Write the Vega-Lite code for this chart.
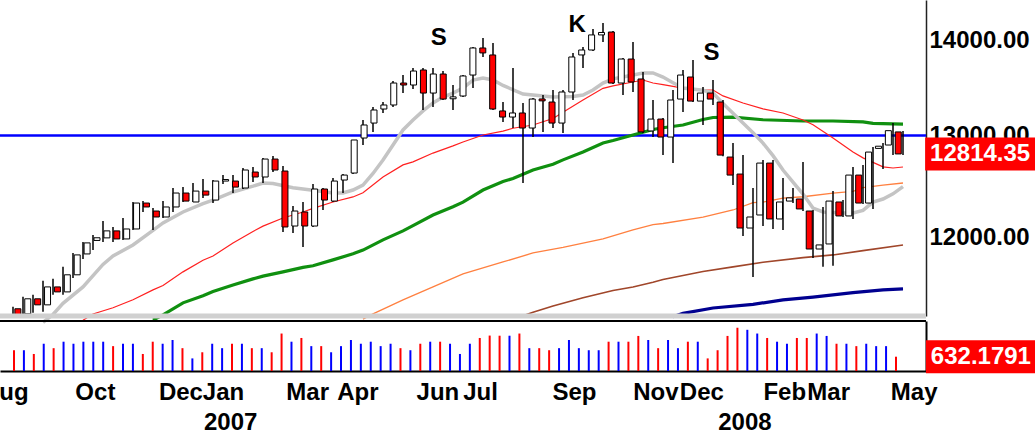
{
  "$schema": "https://vega.github.io/schema/vega-lite/v6.json",
  "width": 926,
  "height": 371,
  "autosize": {"type": "none"},
  "padding": {"left": 0, "top": 0, "right": 109, "bottom": 63},
  "background": "#ffffff",
  "config": {
    "view": {"stroke": null},
    "font": "Liberation Sans",
    "axis": {"labelFont": "Liberation Sans", "labelFontSize": 24, "labelFontWeight": "bold", "labelColor": "#000000", "grid": false, "ticks": false, "tickSize": 0, "labelFlush": false, "labelOverlap": false, "domainColor": "#000000"}
  },
  "datasets": {
    "candles": [
      {"d":"2006-08-21","o":11351,"h":11369,"l":11280,"c":11300,"v":918},
      {"d":"2006-08-28","o":11306,"h":11458,"l":11288,"c":11440,"v":918},
      {"d":"2006-09-04","o":11440,"h":11476,"l":11315,"c":11386,"v":753},
      {"d":"2006-09-11","o":11386,"h":11602,"l":11324,"c":11547,"v":1205},
      {"d":"2006-09-18","o":11547,"h":11620,"l":11476,"c":11502,"v":1009},
      {"d":"2006-09-25","o":11502,"h":11730,"l":11476,"c":11657,"v":1295},
      {"d":"2006-10-02","o":11657,"h":11858,"l":11629,"c":11840,"v":1205},
      {"d":"2006-10-09","o":11849,"h":11961,"l":11803,"c":11952,"v":1295},
      {"d":"2006-10-16","o":11975,"h":12027,"l":11886,"c":12000,"v":1295},
      {"d":"2006-10-23","o":11999,"h":12159,"l":11961,"c":12065,"v":1295},
      {"d":"2006-10-30","o":12065,"h":12102,"l":11961,"c":11989,"v":1099},
      {"d":"2006-11-06","o":11989,"h":12187,"l":11980,"c":12083,"v":1205},
      {"d":"2006-11-13","o":12083,"h":12341,"l":12074,"c":12331,"v":1205},
      {"d":"2006-11-20","o":12331,"h":12350,"l":12245,"c":12293,"v":753},
      {"d":"2006-11-27","o":12254,"h":12283,"l":12074,"c":12197,"v":1295},
      {"d":"2006-12-04","o":12197,"h":12350,"l":12187,"c":12293,"v":1205},
      {"d":"2006-12-11","o":12293,"h":12477,"l":12245,"c":12428,"v":1370},
      {"d":"2006-12-18","o":12428,"h":12486,"l":12341,"c":12350,"v":1009},
      {"d":"2006-12-25","o":12341,"h":12526,"l":12341,"c":12447,"v":557},
      {"d":"2007-01-01","o":12447,"h":12565,"l":12379,"c":12408,"v":828},
      {"d":"2007-01-08","o":12360,"h":12555,"l":12331,"c":12545,"v":1205},
      {"d":"2007-01-15","o":12545,"h":12604,"l":12516,"c":12560,"v":1009},
      {"d":"2007-01-22","o":12545,"h":12604,"l":12428,"c":12486,"v":1205},
      {"d":"2007-01-29","o":12477,"h":12674,"l":12467,"c":12654,"v":1205},
      {"d":"2007-02-05","o":12634,"h":12684,"l":12535,"c":12585,"v":1009},
      {"d":"2007-02-12","o":12585,"h":12773,"l":12526,"c":12763,"v":1009},
      {"d":"2007-02-19","o":12763,"h":12793,"l":12634,"c":12654,"v":828},
      {"d":"2007-02-26","o":12644,"h":12694,"l":12055,"c":12102,"v":1656},
      {"d":"2007-03-05","o":12111,"h":12302,"l":12046,"c":12254,"v":1295},
      {"d":"2007-03-12","o":12245,"h":12341,"l":11914,"c":12111,"v":1460},
      {"d":"2007-03-19","o":12111,"h":12516,"l":12102,"c":12467,"v":1099},
      {"d":"2007-03-26","o":12467,"h":12477,"l":12264,"c":12360,"v":1099},
      {"d":"2007-04-02","o":12350,"h":12575,"l":12341,"c":12545,"v":828},
      {"d":"2007-04-09","o":12555,"h":12614,"l":12428,"c":12604,"v":1099},
      {"d":"2007-04-16","o":12624,"h":12955,"l":12614,"c":12955,"v":1370},
      {"d":"2007-04-23","o":12975,"h":13159,"l":12904,"c":13108,"v":1205},
      {"d":"2007-04-30","o":13128,"h":13294,"l":13037,"c":13263,"v":1295},
      {"d":"2007-05-07","o":13273,"h":13346,"l":13232,"c":13315,"v":1099},
      {"d":"2007-05-14","o":13315,"h":13567,"l":13294,"c":13546,"v":1205},
      {"d":"2007-05-21","o":13546,"h":13631,"l":13440,"c":13525,"v":1009},
      {"d":"2007-05-28","o":13525,"h":13706,"l":13483,"c":13674,"v":918},
      {"d":"2007-06-04","o":13685,"h":13706,"l":13263,"c":13440,"v":1205},
      {"d":"2007-06-11","o":13440,"h":13706,"l":13294,"c":13642,"v":1295},
      {"d":"2007-06-18","o":13642,"h":13674,"l":13367,"c":13377,"v":1295},
      {"d":"2007-06-25","o":13380,"h":13525,"l":13263,"c":13400,"v":1205},
      {"d":"2007-07-02","o":13409,"h":13631,"l":13398,"c":13621,"v":753},
      {"d":"2007-07-09","o":13631,"h":13934,"l":13493,"c":13923,"v":1205},
      {"d":"2007-07-16","o":13923,"h":14032,"l":13825,"c":13869,"v":1460},
      {"d":"2007-07-23","o":13847,"h":13977,"l":13263,"c":13273,"v":1566},
      {"d":"2007-07-30","o":13253,"h":13346,"l":13139,"c":13190,"v":1560},
      {"d":"2007-08-06","o":13190,"h":13706,"l":13077,"c":13232,"v":1560},
      {"d":"2007-08-13","o":13232,"h":13336,"l":12526,"c":13077,"v":1656},
      {"d":"2007-08-20","o":13077,"h":13388,"l":12985,"c":13377,"v":1009},
      {"d":"2007-08-27","o":13378,"h":13420,"l":13037,"c":13358,"v":1009},
      {"d":"2007-09-03","o":13346,"h":13472,"l":13077,"c":13128,"v":918},
      {"d":"2007-09-10","o":13128,"h":13472,"l":13026,"c":13451,"v":1009},
      {"d":"2007-09-17","o":13451,"h":13869,"l":13367,"c":13825,"v":1370},
      {"d":"2007-09-24","o":13847,"h":13934,"l":13706,"c":13901,"v":1009},
      {"d":"2007-10-01","o":13901,"h":14131,"l":13890,"c":14066,"v":918},
      {"d":"2007-10-08","o":14066,"h":14198,"l":13987,"c":14093,"v":918},
      {"d":"2007-10-15","o":14098,"h":14109,"l":13535,"c":13546,"v":1295},
      {"d":"2007-10-22","o":13546,"h":13814,"l":13420,"c":13803,"v":1295},
      {"d":"2007-10-29","o":13803,"h":13987,"l":13451,"c":13557,"v":1295},
      {"d":"2007-11-05","o":13589,"h":13663,"l":13026,"c":13037,"v":1550},
      {"d":"2007-11-12","o":13047,"h":13367,"l":12985,"c":13169,"v":1370},
      {"d":"2007-11-19","o":13169,"h":13180,"l":12803,"c":12985,"v":1009},
      {"d":"2007-11-26","o":12985,"h":13472,"l":12723,"c":13367,"v":1370},
      {"d":"2007-12-03","o":13377,"h":13685,"l":13242,"c":13631,"v":1009},
      {"d":"2007-12-10","o":13610,"h":13792,"l":13346,"c":13356,"v":1295},
      {"d":"2007-12-17","o":13356,"h":13504,"l":13108,"c":13440,"v":1295},
      {"d":"2007-12-24","o":13440,"h":13578,"l":13315,"c":13377,"v":557},
      {"d":"2007-12-31","o":13346,"h":13367,"l":12790,"c":12803,"v":918},
      {"d":"2008-01-07","o":12783,"h":12924,"l":12506,"c":12604,"v":1550},
      {"d":"2008-01-14","o":12614,"h":12803,"l":12017,"c":12092,"v":1912},
      {"d":"2008-01-21","o":12092,"h":12477,"l":11638,"c":12197,"v":1821},
      {"d":"2008-01-28","o":12216,"h":12753,"l":12111,"c":12723,"v":1656},
      {"d":"2008-02-04","o":12723,"h":12753,"l":12083,"c":12178,"v":1460},
      {"d":"2008-02-11","o":12178,"h":12575,"l":12074,"c":12341,"v":1295},
      {"d":"2008-02-18","o":12350,"h":12477,"l":12331,"c":12381,"v":1205},
      {"d":"2008-02-25","o":12370,"h":12733,"l":12254,"c":12274,"v":1460},
      {"d":"2008-03-03","o":12254,"h":12264,"l":11812,"c":11895,"v":1460},
      {"d":"2008-03-10","o":11895,"h":12293,"l":11730,"c":11933,"v":1656},
      {"d":"2008-03-17","o":11942,"h":12447,"l":11739,"c":12350,"v":1550},
      {"d":"2008-03-24","o":12341,"h":12360,"l":12197,"c":12207,"v":1205},
      {"d":"2008-03-31","o":12207,"h":12684,"l":12178,"c":12604,"v":1205},
      {"d":"2008-04-07","o":12604,"h":12704,"l":12321,"c":12331,"v":1099},
      {"d":"2008-04-14","o":12331,"h":12883,"l":12273,"c":12833,"v":1205},
      {"d":"2008-04-21","o":12870,"h":12924,"l":12664,"c":12892,"v":1099},
      {"d":"2008-04-28","o":12904,"h":13128,"l":12803,"c":13050,"v":1099},
      {"d":"2008-05-05","o":13037,"h":13047,"l":12803,"c":12814.35,"v":632.1791}
    ],
    "ma": [
      {"d":"2006-09-11","s":"g","v":11230},{"d":"2006-09-18","s":"g","v":11300},{"d":"2006-09-25","s":"g","v":11400},{"d":"2006-10-09","s":"g","v":11547},{"d":"2006-10-23","s":"g","v":11752},{"d":"2006-10-30","s":"g","v":11830},{"d":"2006-11-13","s":"g","v":11933},{"d":"2006-11-27","s":"g","v":12070},{"d":"2006-12-04","s":"g","v":12140},{"d":"2006-12-18","s":"g","v":12245},{"d":"2007-01-01","s":"g","v":12325},{"d":"2007-01-08","s":"g","v":12360},{"d":"2007-01-22","s":"g","v":12438},{"d":"2007-02-05","s":"g","v":12495},{"d":"2007-02-12","s":"g","v":12526},{"d":"2007-02-19","s":"g","v":12520},{"d":"2007-03-05","s":"g","v":12480},{"d":"2007-03-19","s":"g","v":12455},{"d":"2007-04-02","s":"g","v":12428},{"d":"2007-04-09","s":"g","v":12428},{"d":"2007-04-16","s":"g","v":12457},{"d":"2007-04-23","s":"g","v":12506},{"d":"2007-04-30","s":"g","v":12620},{"d":"2007-05-07","s":"g","v":12753},{"d":"2007-05-14","s":"g","v":12904},{"d":"2007-05-21","s":"g","v":13057},{"d":"2007-05-28","s":"g","v":13159},{"d":"2007-06-04","s":"g","v":13253},{"d":"2007-06-11","s":"g","v":13336},{"d":"2007-06-18","s":"g","v":13398},{"d":"2007-06-25","s":"g","v":13440},{"d":"2007-07-02","s":"g","v":13493},{"d":"2007-07-09","s":"g","v":13578},{"d":"2007-07-16","s":"g","v":13599},{"d":"2007-07-23","s":"g","v":13578},{"d":"2007-07-30","s":"g","v":13520},{"d":"2007-08-13","s":"g","v":13430},{"d":"2007-09-03","s":"g","v":13398},{"d":"2007-09-17","s":"g","v":13405},{"d":"2007-09-24","s":"g","v":13420},{"d":"2007-10-01","s":"g","v":13472},{"d":"2007-10-08","s":"g","v":13546},{"d":"2007-10-15","s":"g","v":13590},{"d":"2007-10-22","s":"g","v":13610},{"d":"2007-11-05","s":"g","v":13653},{"d":"2007-11-12","s":"g","v":13653},{"d":"2007-11-19","s":"g","v":13610},{"d":"2007-11-26","s":"g","v":13550},{"d":"2007-12-03","s":"g","v":13493},{"d":"2007-12-17","s":"g","v":13470},{"d":"2007-12-24","s":"g","v":13440},{"d":"2007-12-31","s":"g","v":13330},{"d":"2008-01-07","s":"g","v":13230},{"d":"2008-01-14","s":"g","v":13128},{"d":"2008-01-21","s":"g","v":13030},{"d":"2008-01-28","s":"g","v":12924},{"d":"2008-02-04","s":"g","v":12797},{"d":"2008-02-11","s":"g","v":12654},{"d":"2008-02-18","s":"g","v":12535},{"d":"2008-02-25","s":"g","v":12418},{"d":"2008-03-03","s":"g","v":12283},{"d":"2008-03-10","s":"g","v":12245},{"d":"2008-03-24","s":"g","v":12235},{"d":"2008-03-31","s":"g","v":12235},{"d":"2008-04-07","s":"g","v":12260},{"d":"2008-04-14","s":"g","v":12340},{"d":"2008-04-21","s":"g","v":12370},{"d":"2008-04-28","s":"g","v":12420},{"d":"2008-05-05","s":"g","v":12490},
      {"d":"2006-10-09","s":"r","v":11250},{"d":"2006-10-16","s":"r","v":11305},{"d":"2006-10-30","s":"r","v":11360},{"d":"2006-11-13","s":"r","v":11431},{"d":"2006-11-27","s":"r","v":11520},{"d":"2006-12-04","s":"r","v":11560},{"d":"2006-12-18","s":"r","v":11684},{"d":"2007-01-01","s":"r","v":11790},{"d":"2007-01-08","s":"r","v":11830},{"d":"2007-01-22","s":"r","v":11952},{"d":"2007-02-05","s":"r","v":12060},{"d":"2007-02-12","s":"r","v":12110},{"d":"2007-02-26","s":"r","v":12187},{"d":"2007-03-12","s":"r","v":12245},{"d":"2007-03-19","s":"r","v":12280},{"d":"2007-04-02","s":"r","v":12341},{"d":"2007-04-16","s":"r","v":12390},{"d":"2007-04-23","s":"r","v":12430},{"d":"2007-05-07","s":"r","v":12585},{"d":"2007-05-21","s":"r","v":12705},{"d":"2007-05-28","s":"r","v":12735},{"d":"2007-06-11","s":"r","v":12823},{"d":"2007-06-25","s":"r","v":12895},{"d":"2007-07-02","s":"r","v":12935},{"d":"2007-07-16","s":"r","v":13006},{"d":"2007-07-30","s":"r","v":13045},{"d":"2007-08-06","s":"r","v":13075},{"d":"2007-08-20","s":"r","v":13108},{"d":"2007-09-03","s":"r","v":13175},{"d":"2007-09-10","s":"r","v":13240},{"d":"2007-09-24","s":"r","v":13367},{"d":"2007-10-08","s":"r","v":13490},{"d":"2007-10-15","s":"r","v":13515},{"d":"2007-10-29","s":"r","v":13557},{"d":"2007-11-05","s":"r","v":13578},{"d":"2007-11-12","s":"r","v":13546},{"d":"2007-11-19","s":"r","v":13530},{"d":"2007-12-03","s":"r","v":13493},{"d":"2007-12-17","s":"r","v":13472},{"d":"2007-12-24","s":"r","v":13472},{"d":"2007-12-31","s":"r","v":13410},{"d":"2008-01-14","s":"r","v":13336},{"d":"2008-01-28","s":"r","v":13275},{"d":"2008-02-11","s":"r","v":13232},{"d":"2008-02-25","s":"r","v":13160},{"d":"2008-03-03","s":"r","v":13110},{"d":"2008-03-17","s":"r","v":12975},{"d":"2008-03-31","s":"r","v":12833},{"d":"2008-04-07","s":"r","v":12775},{"d":"2008-04-21","s":"r","v":12685},{"d":"2008-04-28","s":"r","v":12674},{"d":"2008-05-05","s":"r","v":12684},
      {"d":"2006-11-27","s":"gr","v":11250},{"d":"2006-12-04","s":"gr","v":11297},{"d":"2006-12-18","s":"gr","v":11404},{"d":"2007-01-01","s":"gr","v":11468},{"d":"2007-01-08","s":"gr","v":11505},{"d":"2007-01-22","s":"gr","v":11565},{"d":"2007-02-05","s":"gr","v":11620},{"d":"2007-02-12","s":"gr","v":11645},{"d":"2007-02-26","s":"gr","v":11684},{"d":"2007-03-12","s":"gr","v":11725},{"d":"2007-03-19","s":"gr","v":11740},{"d":"2007-04-02","s":"gr","v":11794},{"d":"2007-04-16","s":"gr","v":11850},{"d":"2007-04-23","s":"gr","v":11885},{"d":"2007-05-07","s":"gr","v":11980},{"d":"2007-05-21","s":"gr","v":12065},{"d":"2007-05-28","s":"gr","v":12115},{"d":"2007-06-11","s":"gr","v":12216},{"d":"2007-06-25","s":"gr","v":12295},{"d":"2007-07-02","s":"gr","v":12340},{"d":"2007-07-16","s":"gr","v":12457},{"d":"2007-07-30","s":"gr","v":12540},{"d":"2007-08-06","s":"gr","v":12570},{"d":"2007-08-20","s":"gr","v":12654},{"d":"2007-09-03","s":"gr","v":12712},{"d":"2007-09-10","s":"gr","v":12755},{"d":"2007-09-24","s":"gr","v":12833},{"d":"2007-10-08","s":"gr","v":12925},{"d":"2007-10-15","s":"gr","v":12950},{"d":"2007-10-29","s":"gr","v":13006},{"d":"2007-11-12","s":"gr","v":13062},{"d":"2007-11-19","s":"gr","v":13080},{"d":"2007-12-03","s":"gr","v":13108},{"d":"2007-12-17","s":"gr","v":13165},{"d":"2007-12-24","s":"gr","v":13185},{"d":"2008-01-07","s":"gr","v":13190},{"d":"2008-01-28","s":"gr","v":13162},{"d":"2008-02-25","s":"gr","v":13149},{"d":"2008-03-17","s":"gr","v":13149},{"d":"2008-04-07","s":"gr","v":13140},{"d":"2008-04-14","s":"gr","v":13125},{"d":"2008-05-05","s":"gr","v":13118},
      {"d":"2007-04-23","s":"o","v":11260},{"d":"2007-04-30","s":"o","v":11306},{"d":"2007-05-21","s":"o","v":11430},{"d":"2007-06-11","s":"o","v":11547},{"d":"2007-07-02","s":"o","v":11665},{"d":"2007-07-30","s":"o","v":11775},{"d":"2007-08-20","s":"o","v":11858},{"d":"2007-09-10","s":"o","v":11910},{"d":"2007-10-08","s":"o","v":11990},{"d":"2007-10-29","s":"o","v":12074},{"d":"2007-11-12","s":"o","v":12125},{"d":"2007-11-19","s":"o","v":12135},{"d":"2007-12-17","s":"o","v":12195},{"d":"2008-01-07","s":"o","v":12264},{"d":"2008-01-21","s":"o","v":12335},{"d":"2008-01-28","s":"o","v":12340},{"d":"2008-02-11","s":"o","v":12379},{"d":"2008-02-25","s":"o","v":12392},{"d":"2008-03-17","s":"o","v":12428},{"d":"2008-03-31","s":"o","v":12445},{"d":"2008-04-07","s":"o","v":12480},{"d":"2008-04-21","s":"o","v":12506},{"d":"2008-05-05","s":"o","v":12526},
      {"d":"2007-08-13","s":"b","v":11290},{"d":"2007-08-20","s":"b","v":11320},{"d":"2007-09-03","s":"b","v":11375},{"d":"2007-09-24","s":"b","v":11449},{"d":"2007-10-15","s":"b","v":11515},{"d":"2007-10-29","s":"b","v":11547},{"d":"2007-11-12","s":"b","v":11590},{"d":"2007-11-19","s":"b","v":11615},{"d":"2007-12-17","s":"b","v":11688},{"d":"2008-01-07","s":"b","v":11730},{"d":"2008-01-28","s":"b","v":11772},{"d":"2008-02-25","s":"b","v":11815},{"d":"2008-03-17","s":"b","v":11840},{"d":"2008-04-07","s":"b","v":11880},{"d":"2008-05-05","s":"b","v":11933},
      {"d":"2007-11-26","s":"n","v":11280},{"d":"2007-12-03","s":"n","v":11310},{"d":"2007-12-24","s":"n","v":11358},{"d":"2008-01-21","s":"n","v":11390},{"d":"2008-02-11","s":"n","v":11431},{"d":"2008-03-03","s":"n","v":11455},{"d":"2008-03-31","s":"n","v":11495},{"d":"2008-04-21","s":"n","v":11520},{"d":"2008-05-05","s":"n","v":11529}
    ],
    "notes": [
      {"d":"2007-06-15","v":14028,"t":"S"},
      {"d":"2007-09-20","v":14175,"t":"K"},
      {"d":"2007-12-23","v":13873,"t":"S"}
    ],
    "lastClose": [{"d":"2008-06-28","v":12814.35,"t":"12814.35"}],
    "lastVolume": [{"d":"2008-07-04","v":632.1791,"t":"632.1791"}]
  },
  "layer": [
    {
      "data": {"values": [{}]},
      "mark": {"type": "rule", "color": "#0000ff", "strokeWidth": 2.5},
      "encoding": {
        "y": {"datum": 13000, "type": "quantitative", "scale": {"type": "log", "domain": [11287, 14456], "range": [316, 0], "nice": false, "zero": false}, "axis": null}
      }
    },
    {
      "data": {"name": "ma"},
      "transform": [{"filter": "datum.s == 'gr'"}],
      "mark": {"type": "line", "color": "#109010", "strokeWidth": 3.2, "clip": true},
      "encoding": {
        "x": {"field": "d", "type": "temporal", "scale": {"type": "utc", "domain": [{"year": 2006, "month": 8, "date": 11, "hours": 21, "minutes": 36, "utc": true}, {"year": 2008, "month": 5, "date": 21, "hours": 2, "minutes": 24, "utc": true}]}, "axis": null},
        "y": {"field": "v", "type": "quantitative", "scale": {"type": "log", "domain": [11287, 14456], "range": [316, 0], "nice": false, "zero": false}, "axis": null}
      }
    },
    {
      "data": {"name": "ma"},
      "transform": [{"filter": "datum.s == 'o'"}],
      "mark": {"type": "line", "color": "#ff8040", "strokeWidth": 1.3, "clip": true},
      "encoding": {
        "x": {"field": "d", "type": "temporal", "scale": {"type": "utc", "domain": [{"year": 2006, "month": 8, "date": 11, "hours": 21, "minutes": 36, "utc": true}, {"year": 2008, "month": 5, "date": 21, "hours": 2, "minutes": 24, "utc": true}]}, "axis": null},
        "y": {"field": "v", "type": "quantitative", "scale": {"type": "log", "domain": [11287, 14456], "range": [316, 0], "nice": false, "zero": false}, "axis": null}
      }
    },
    {
      "data": {"name": "ma"},
      "transform": [{"filter": "datum.s == 'b'"}],
      "mark": {"type": "line", "color": "#a0462a", "strokeWidth": 1.6, "clip": true},
      "encoding": {
        "x": {"field": "d", "type": "temporal", "scale": {"type": "utc", "domain": [{"year": 2006, "month": 8, "date": 11, "hours": 21, "minutes": 36, "utc": true}, {"year": 2008, "month": 5, "date": 21, "hours": 2, "minutes": 24, "utc": true}]}, "axis": null},
        "y": {"field": "v", "type": "quantitative", "scale": {"type": "log", "domain": [11287, 14456], "range": [316, 0], "nice": false, "zero": false}, "axis": null}
      }
    },
    {
      "data": {"name": "ma"},
      "transform": [{"filter": "datum.s == 'n'"}],
      "mark": {"type": "line", "color": "#000090", "strokeWidth": 3.2, "clip": true},
      "encoding": {
        "x": {"field": "d", "type": "temporal", "scale": {"type": "utc", "domain": [{"year": 2006, "month": 8, "date": 11, "hours": 21, "minutes": 36, "utc": true}, {"year": 2008, "month": 5, "date": 21, "hours": 2, "minutes": 24, "utc": true}]}, "axis": null},
        "y": {"field": "v", "type": "quantitative", "scale": {"type": "log", "domain": [11287, 14456], "range": [316, 0], "nice": false, "zero": false}, "axis": null}
      }
    },
    {
      "data": {"name": "ma"},
      "transform": [{"filter": "datum.s == 'r'"}],
      "mark": {"type": "line", "color": "#ff2020", "strokeWidth": 1.2, "clip": true},
      "encoding": {
        "x": {"field": "d", "type": "temporal", "scale": {"type": "utc", "domain": [{"year": 2006, "month": 8, "date": 11, "hours": 21, "minutes": 36, "utc": true}, {"year": 2008, "month": 5, "date": 21, "hours": 2, "minutes": 24, "utc": true}]}, "axis": null},
        "y": {"field": "v", "type": "quantitative", "scale": {"type": "log", "domain": [11287, 14456], "range": [316, 0], "nice": false, "zero": false}, "axis": null}
      }
    },
    {
      "data": {"name": "ma"},
      "transform": [{"filter": "datum.s == 'g'"}],
      "mark": {"type": "line", "color": "#c4c4c4", "strokeWidth": 3.5, "clip": true},
      "encoding": {
        "x": {"field": "d", "type": "temporal", "scale": {"type": "utc", "domain": [{"year": 2006, "month": 8, "date": 11, "hours": 21, "minutes": 36, "utc": true}, {"year": 2008, "month": 5, "date": 21, "hours": 2, "minutes": 24, "utc": true}]}, "axis": null},
        "y": {"field": "v", "type": "quantitative", "scale": {"type": "log", "domain": [11287, 14456], "range": [316, 0], "nice": false, "zero": false}, "axis": null}
      }
    },
    {
      "data": {"name": "candles"},
      "mark": {"type": "rule", "color": "#000000", "strokeWidth": 1.5, "clip": true},
      "encoding": {
        "x": {"field": "d", "type": "temporal", "scale": {"type": "utc", "domain": [{"year": 2006, "month": 8, "date": 11, "hours": 21, "minutes": 36, "utc": true}, {"year": 2008, "month": 5, "date": 21, "hours": 2, "minutes": 24, "utc": true}]},
          "axis": {"orient": "bottom", "title": null, "values": [{"year": 2007, "month": 1, "date": 20, "utc": true}, {"year": 2008, "month": 1, "date": 15, "utc": true}], "labelExpr": "utcFormat(datum.value, '%Y')", "domain": false, "offset": 30, "labelPadding": 9, "labelAlign": "center"}},
        "y": {"field": "l", "type": "quantitative", "scale": {"type": "log", "domain": [11287, 14456], "range": [316, 0], "nice": false, "zero": false},
          "axis": {"orient": "right", "title": null, "values": [12000, 13000, 14000], "labelExpr": "format(datum.value, '.2f')", "domain": true, "domainWidth": 1.5, "domainColor": "#222222", "labelPadding": 3, "labelAlign": "left", "labelBaseline": "middle"}},
        "y2": {"field": "h"}
      }
    },
    {
      "data": {"name": "candles"},
      "mark": {"type": "bar", "width": 6, "stroke": "#000000", "strokeWidth": 1, "clip": true},
      "encoding": {
        "x": {"field": "d", "type": "temporal", "scale": {"type": "utc", "domain": [{"year": 2006, "month": 8, "date": 11, "hours": 21, "minutes": 36, "utc": true}, {"year": 2008, "month": 5, "date": 21, "hours": 2, "minutes": 24, "utc": true}]}, "axis": null},
        "y": {"field": "o", "type": "quantitative", "scale": {"type": "log", "domain": [11287, 14456], "range": [316, 0], "nice": false, "zero": false}, "axis": null},
        "y2": {"field": "c"},
        "fill": {"condition": {"test": "datum.c < datum.o", "value": "#ff0000"}, "value": "#ffffff"}
      }
    },
    {
      "data": {"name": "notes"},
      "mark": {"type": "text", "fontSize": 24, "fontWeight": "bold", "font": "Liberation Sans", "color": "#000000", "align": "center", "baseline": "middle"},
      "encoding": {
        "x": {"field": "d", "type": "temporal", "scale": {"type": "utc", "domain": [{"year": 2006, "month": 8, "date": 11, "hours": 21, "minutes": 36, "utc": true}, {"year": 2008, "month": 5, "date": 21, "hours": 2, "minutes": 24, "utc": true}]}, "axis": null},
        "y": {"field": "v", "type": "quantitative", "scale": {"type": "log", "domain": [11287, 14456], "range": [316, 0], "nice": false, "zero": false}, "axis": null},
        "text": {"field": "t"}
      }
    },
    {
      "data": {"values": [{}]},
      "mark": {"type": "rule", "color": "#d0d0d0", "strokeWidth": 5},
      "encoding": {
        "y": {"datum": 11287, "type": "quantitative", "scale": {"type": "log", "domain": [11287, 14456], "range": [316, 0], "nice": false, "zero": false}, "axis": null}
      }
    },
    {
      "data": {"name": "lastClose"},
      "mark": {"type": "tick", "orient": "horizontal", "size": 110, "thickness": 33, "color": "#ff0000", "opacity": 1, "clip": false},
      "encoding": {
        "x": {"field": "d", "type": "temporal", "scale": {"type": "utc", "domain": [{"year": 2006, "month": 8, "date": 11, "hours": 21, "minutes": 36, "utc": true}, {"year": 2008, "month": 5, "date": 21, "hours": 2, "minutes": 24, "utc": true}]}, "axis": null},
        "y": {"field": "v", "type": "quantitative", "scale": {"type": "log", "domain": [11287, 14456], "range": [316, 0], "nice": false, "zero": false}, "axis": null}
      }
    },
    {
      "data": {"name": "lastClose"},
      "mark": {"type": "text", "fontSize": 24, "fontWeight": "bold", "font": "Liberation Sans", "color": "#ffffff", "align": "center", "baseline": "middle", "clip": false},
      "encoding": {
        "x": {"field": "d", "type": "temporal", "scale": {"type": "utc", "domain": [{"year": 2006, "month": 8, "date": 11, "hours": 21, "minutes": 36, "utc": true}, {"year": 2008, "month": 5, "date": 21, "hours": 2, "minutes": 24, "utc": true}]}, "axis": null},
        "y": {"field": "v", "type": "quantitative", "scale": {"type": "log", "domain": [11287, 14456], "range": [316, 0], "nice": false, "zero": false}, "axis": null},
        "text": {"field": "t"}
      }
    },
    {
      "data": {"name": "candles"},
      "mark": {"type": "rule", "strokeWidth": 2},
      "encoding": {
        "x": {"field": "d", "type": "temporal", "scale": {"type": "utc", "domain": [{"year": 2006, "month": 8, "date": 11, "hours": 2, "minutes": 40, "utc": true}, {"year": 2008, "month": 5, "date": 26, "hours": 5, "utc": true}]},
          "axis": {"orient": "bottom", "title": null, "values": [
            {"year": 2006, "month": 8, "date": 31, "utc": true},
            {"year": 2006, "month": 10, "date": 3, "utc": true},
            {"year": 2006, "month": 12, "date": 1, "utc": true},
            {"year": 2007, "month": 1, "date": 1, "utc": true},
            {"year": 2007, "month": 3, "date": 1, "utc": true},
            {"year": 2007, "month": 4, "date": 6, "utc": true},
            {"year": 2007, "month": 6, "date": 1, "utc": true},
            {"year": 2007, "month": 7, "date": 4, "utc": true},
            {"year": 2007, "month": 9, "date": 5, "utc": true},
            {"year": 2007, "month": 11, "date": 1, "utc": true},
            {"year": 2007, "month": 12, "date": 4, "utc": true},
            {"year": 2008, "month": 2, "date": 1, "utc": true},
            {"year": 2008, "month": 3, "date": 3, "utc": true},
            {"year": 2008, "month": 5, "date": 1, "utc": true}
          ], "labelExpr": "utcFormat(datum.value, '%b')", "domain": true, "domainWidth": 2, "labelPadding": 9,
          "labelAlign": {"condition": {"test": "utcmonth(datum.value) == 7", "value": "right"}, "value": "left"}}},
        "y": {"field": "v", "type": "quantitative", "scale": {"domain": [0, 2210], "range": [371, 321], "nice": false, "zero": true},
          "axis": {"orient": "right", "title": null, "labels": false, "domain": true, "domainWidth": 2}},
        "y2": {"datum": 0},
        "color": {"condition": {"test": "datum.c < datum.o", "value": "#ff0000"}, "value": "#0000ff"}
      }
    },
    {
      "data": {"values": [{}]},
      "mark": {"type": "rule", "color": "#000000", "strokeWidth": 2},
      "encoding": {
        "y": {"datum": 2210, "type": "quantitative", "scale": {"domain": [0, 2210], "range": [371, 321], "nice": false, "zero": true}, "axis": null}
      }
    },
    {
      "data": {"name": "lastVolume"},
      "mark": {"type": "tick", "orient": "horizontal", "size": 110, "thickness": 33, "color": "#ff0000", "opacity": 1, "clip": false},
      "encoding": {
        "x": {"field": "d", "type": "temporal", "scale": {"type": "utc", "domain": [{"year": 2006, "month": 8, "date": 11, "hours": 2, "minutes": 40, "utc": true}, {"year": 2008, "month": 5, "date": 26, "hours": 5, "utc": true}]}, "axis": null},
        "y": {"field": "v", "type": "quantitative", "scale": {"domain": [0, 2210], "range": [371, 321], "nice": false, "zero": true}, "axis": null}
      }
    },
    {
      "data": {"name": "lastVolume"},
      "mark": {"type": "text", "fontSize": 24, "fontWeight": "bold", "font": "Liberation Sans", "color": "#ffffff", "align": "center", "baseline": "middle", "clip": false},
      "encoding": {
        "x": {"field": "d", "type": "temporal", "scale": {"type": "utc", "domain": [{"year": 2006, "month": 8, "date": 11, "hours": 2, "minutes": 40, "utc": true}, {"year": 2008, "month": 5, "date": 26, "hours": 5, "utc": true}]}, "axis": null},
        "y": {"field": "v", "type": "quantitative", "scale": {"domain": [0, 2210], "range": [371, 321], "nice": false, "zero": true}, "axis": null},
        "text": {"field": "t"}
      }
    }
  ],
  "resolve": {"scale": {"x": "independent", "y": "independent"}, "axis": {"x": "independent", "y": "independent"}}
}
